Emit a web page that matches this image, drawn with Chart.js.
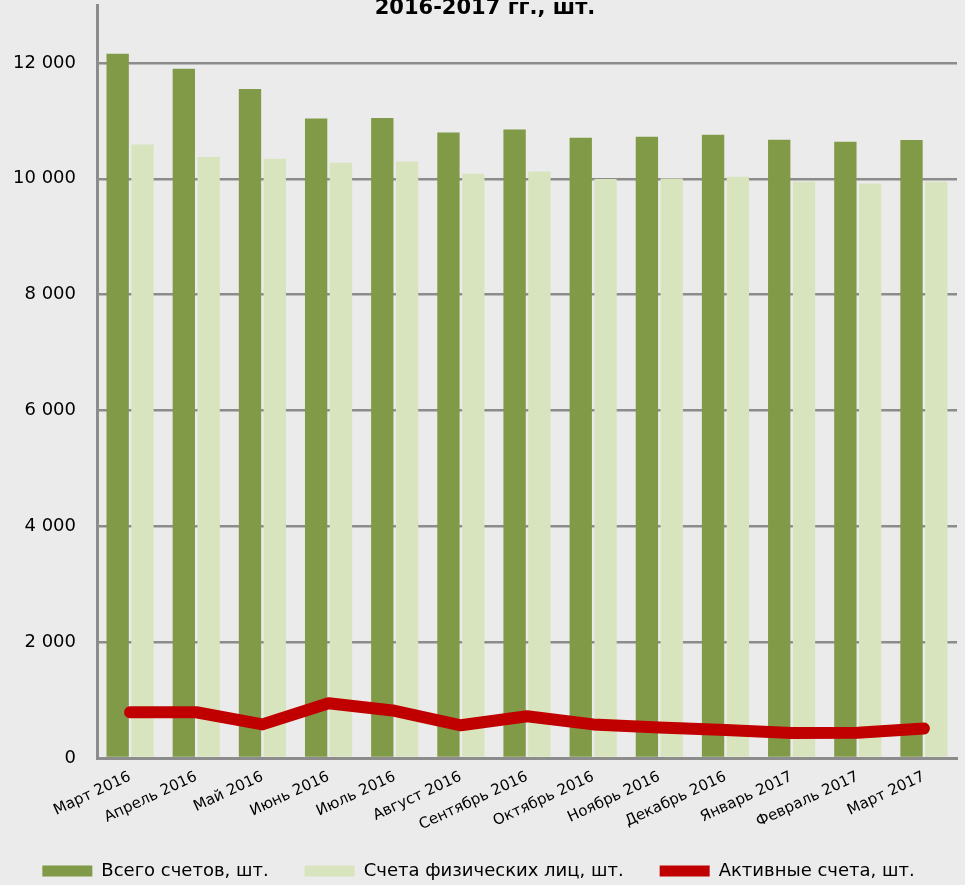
<!DOCTYPE html>
<html>
<head>
<meta charset="utf-8">
<script src="https://cdn.jsdelivr.net/npm/chart.js@4/dist/chart.umd.min.js"></script>
<style>
  html, body { margin: 0; padding: 0; background: #EBEBEB; }
  #wrap { width: 965px; height: 885px; position: relative; }
</style>
</head>
<body>
<div id="wrap"><canvas id="chart"></canvas></div>
<script>
const months = ['Март 2016', 'Апрель 2016', 'Май 2016', 'Июнь 2016', 'Июль 2016', 'Август 2016',
  'Сентябрь 2016', 'Октябрь 2016', 'Ноябрь 2016', 'Декабрь 2016', 'Январь 2017', 'Февраль 2017', 'Март 2017'];
const totalAccounts = [12160, 11900, 11550, 11040, 11050, 10800, 10850, 10710, 10725, 10760, 10675, 10640, 10670];
const personalAccounts = [10590, 10375, 10345, 10275, 10300, 10085, 10125, 9995, 10005, 10035, 9950, 9920, 9950];
const activeAccounts = [790, 790, 580, 945, 815, 565, 720, 580, 525, 485, 430, 435, 510];
const yTicks = [0, 2000, 4000, 6000, 8000, 10000, 12000];

const FONT = 'DejaVu Sans, Verdana, sans-serif';
const GRID = '#8c8c8c';

// background, the visible line of the title (it sits inside the plot area),
// and pulling the legend row up so its wide item spacing doesn't eat the plot
const backdrop = {
  id: 'backdrop',
  afterLayout(chart) {
    const lg = chart.legend;
    if (lg) lg.top = 862 - lg.options.labels.padding;
  },
  beforeDraw(chart) {
    const ctx = chart.ctx;
    ctx.save();
    ctx.fillStyle = '#EBEBEB';
    ctx.fillRect(0, 0, chart.width, chart.height);
    ctx.restore();
  },
  afterDraw(chart) {
    const ctx = chart.ctx;
    ctx.save();
    ctx.font = 'bold 21px ' + FONT;
    ctx.fillStyle = '#000';
    ctx.textAlign = 'center';
    ctx.textBaseline = 'middle';
    ctx.fillText('2016-2017 гг., шт.', 485, 9);
    ctx.restore();
  }
};

new Chart(document.getElementById('chart'), {
  data: {
    labels: months,
    datasets: [
      {
        type: 'bar',
        label: 'Всего счетов, шт.',
        data: totalAccounts,
        backgroundColor: '#809A48',
        order: 2,
      },
      {
        type: 'bar',
        label: 'Счета физических лиц, шт.',
        data: personalAccounts,
        backgroundColor: '#D8E4BD',
        order: 2,
      },
      {
        type: 'line',
        label: 'Активные счета, шт.',
        data: activeAccounts,
        borderColor: '#C00000',
        backgroundColor: '#C00000',
        borderWidth: 12,
        borderCapStyle: 'round',
        borderJoinStyle: 'round',
        tension: 0,
        pointRadius: 0,
        pointHoverRadius: 0,
        order: 1,
      },
    ],
  },
  options: {
    responsive: true,
    maintainAspectRatio: false,
    animation: false,
    datasets: {
      bar: { categoryPercentage: 0.75, barPercentage: 0.9 },
    },
    layout: { padding: { top: 5, right: 8, left: 0, bottom: 0 } },
    plugins: {
      title: { display: false },
      tooltip: { enabled: false },
      legend: {
        position: 'bottom',
        maxHeight: 40,
        labels: {
          boxWidth: 50,
          boxHeight: 11,
          padding: 36,
          color: '#000',
          font: { family: FONT, size: 18 },
          sort: (a, b) => a.datasetIndex - b.datasetIndex,
          generateLabels(chart) {
            const items = Chart.defaults.plugins.legend.labels.generateLabels(chart);
            items.forEach(item => { item.lineWidth = 0; });
            return items;
          },
        },
      },
    },
    scales: {
      x: {
        grid: { display: false },
        border: { display: true, color: GRID, width: 3 },
        ticks: {
          color: '#000',
          font: { family: FONT, size: 15 },
          maxRotation: 25,
          minRotation: 25,
          autoSkip: false,
          padding: 2,
        },
        afterFit(scale) {
          scale.height = 87;
          scale.paddingLeft = 0;
          scale.paddingRight = 0;
        },
      },
      y: {
        min: 0,
        max: 13000,
        ticks: {
          stepSize: 2000,
          color: '#000',
          font: { family: FONT, size: 18 },
          padding: 21,
          callback: v => String(v).replace(/\B(?=(\d{3})+(?!\d))/g, ' '),
        },
        afterBuildTicks(scale) {
          scale.ticks = yTicks.map(v => ({ value: v }));
        },
        grid: { color: GRID, lineWidth: 2.5, drawTicks: false },
        border: { display: true, color: GRID, width: 3 },
        afterFit(scale) {
          scale.width = 97;
          scale.paddingTop = 0;
          scale.paddingBottom = 0;
        },
      },
    },
  },
  plugins: [backdrop],
});
</script>
</body>
</html>
